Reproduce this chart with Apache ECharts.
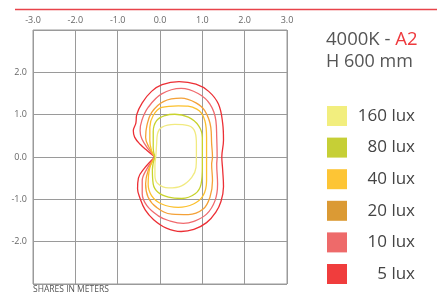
<!DOCTYPE html>
<html>
<head>
<meta charset="utf-8">
<script src="https://cdn.jsdelivr.net/npm/echarts@6/dist/echarts.min.js"></script>
<style>
  html, body { margin: 0; padding: 0; background: #fff; }
  #chart { width: 437px; height: 295px; }
</style>
</head>
<body>
<div id="chart"></div>
<script>
// isolux levels, legend order (160 first)
const levels = ['160 lux', '80 lux', '40 lux', '20 lux', '10 lux', '5 lux']
const swatchColors = ['#f2ee7e', '#c6cf36', '#fdc535', '#db9a34', '#ee6a6a', '#f03d3d']
const lineColors = ['#f1ea80', '#c8d32c', '#fcc02c', '#f4a137', '#f06a6e', '#ec2f35']

const xTicks = [-3, -2, -1, 0, 1, 2, 3]
const yLabelTicks = [-2, -1, 0, 1, 2]

// contour outlines in meters
const lux160 = [[-0.10, 0], [-0.08, 0.3], [-0.06, 0.54], [0.04, 0.70], [0.35, 0.77], [0.67, 0.74], [0.83, 0.58], [0.86, 0.31], [0.86, 0.0],
  [0.85, -0.25], [0.75, -0.48], [0.51, -0.68], [0.20, -0.73], [-0.04, -0.64], [-0.12, -0.44], [-0.12, -0.2], [-0.10, 0]]
const lux80 = [[-0.12, 0], [-0.16, 0.2], [-0.16, 0.6], [-0.08, 0.86], [0.12, 0.98], [0.35, 1.01], [0.67, 0.94], [0.91, 0.74], [1.0, 0.46], [1.0, 0.0],
  [1.0, -0.25], [0.97, -0.64], [0.83, -0.87], [0.51, -0.98], [0.20, -0.95], [-0.04, -0.84], [-0.16, -0.64], [-0.18, -0.3], [-0.12, 0]]
const lux40 = [[-0.12, 0], [-0.20, 0.15], [-0.24, 0.39], [-0.24, 0.70], [-0.16, 0.98], [0.04, 1.17], [0.43, 1.21], [0.87, 1.13], [1.06, 0.86], [1.10, 0.46], [1.10, 0.0],
  [1.10, -0.17], [1.10, -0.56], [1.02, -0.91], [0.79, -1.11], [0.43, -1.19], [0.04, -1.11], [-0.20, -0.91], [-0.28, -0.64], [-0.24, -0.25], [-0.12, 0]]
const lux20 = [[-0.12, 0], [-0.26, 0.23], [-0.34, 0.46], [-0.31, 0.74], [-0.20, 1.05], [0.08, 1.31], [0.50, 1.39], [0.85, 1.28], [1.06, 1.09], [1.20, 0.70], [1.22, 0.31], [1.24, 0.0],
  [1.22, -0.17], [1.24, -0.56], [1.18, -0.95], [1.02, -1.23], [0.67, -1.36], [0.28, -1.35], [-0.08, -1.19], [-0.28, -0.95], [-0.34, -0.64], [-0.28, -0.32], [-0.12, 0]]
const lux10 = [[-0.12, 0], [-0.28, 0.19], [-0.43, 0.43], [-0.47, 0.62], [-0.43, 0.86], [-0.28, 1.17], [0.04, 1.49], [0.50, 1.62], [0.90, 1.50], [1.18, 1.25], [1.32, 0.86], [1.34, 0.46], [1.35, 0.0],
  [1.34, -0.17], [1.36, -0.64], [1.30, -1.03], [1.10, -1.35], [0.80, -1.52], [0.55, -1.57], [0.20, -1.50], [-0.04, -1.39], [-0.31, -1.15], [-0.42, -0.87], [-0.42, -0.56], [-0.31, -0.28], [-0.12, 0]]
const lux5 = [[-0.12, 0.0], [-0.30, 0.15], [-0.47, 0.30], [-0.60, 0.47], [-0.63, 0.62], [-0.57, 0.80], [-0.55, 1.00], [-0.42, 1.28], [-0.20, 1.55], [0.05, 1.71], [0.45, 1.78], [0.85, 1.72], [1.15, 1.55], [1.38, 1.25], [1.48, 0.80], [1.50, 0.40], [1.46, 0.0],
  [1.48, -0.30], [1.50, -0.70], [1.44, -1.05], [1.32, -1.30], [1.10, -1.55], [0.80, -1.71], [0.50, -1.76], [0.15, -1.68], [-0.15, -1.48], [-0.35, -1.25], [-0.47, -0.98], [-0.53, -0.75], [-0.51, -0.50], [-0.38, -0.28], [-0.12, 0.0]]

const contours = [lux160, lux80, lux40, lux20, lux10, lux5]

const chart = echarts.init(document.getElementById('chart'), null, { renderer: 'canvas' })

const series = contours.map((pts, i) => ({
  name: levels[i],
  type: 'line',
  data: pts,
  smooth: 0.4,
  showSymbol: false,
  symbol: 'none',
  silent: true,
  lineStyle: { color: lineColors[i], width: 1.3 },
  z: 10 - i,
}))

// legend drawn by hand so the labels can be right aligned
const legendItems = []
levels.forEach((lab, i) => {
  const top = 106 + i * 31.6
  legendItems.push({
    type: 'rect',
    shape: { x: 327, y: top, width: 20, height: 20 },
    style: { fill: swatchColors[i] },
  })
  legendItems.push({
    type: 'text',
    x: 415,
    y: top + 10,
    style: {
      text: lab,
      align: 'right',
      verticalAlign: 'middle',
      font: '17px "Open Sans"',
      fill: '#444',
    },
  })
})

chart.setOption({
  animation: false,
  grid: {
    left: 33, top: 30, width: 254, height: 254,
    show: true, borderColor: '#9a9a9a', borderWidth: 1,
  },
  xAxis: {
    type: 'value', position: 'top',
    min: -3, max: 3, interval: 1,
    axisLine: { show: false },
    axisTick: { show: false },
    splitLine: { lineStyle: { color: '#9a9a9a', width: 1 } },
    axisLabel: {
      margin: 5,
      color: '#666',
      fontSize: 9,
      fontFamily: 'Open Sans',
      formatter: v => xTicks.includes(v) ? v.toFixed(1) : '',
    },
  },
  yAxis: {
    type: 'value',
    min: -3, max: 3, interval: 1,
    axisLine: { show: false },
    axisTick: { show: false },
    splitLine: { lineStyle: { color: '#9a9a9a', width: 1 } },
    axisLabel: {
      margin: 6,
      color: '#666',
      fontSize: 9,
      fontFamily: 'Open Sans',
      formatter: v => yLabelTicks.includes(v) ? v.toFixed(1) : '',
    },
  },
  graphic: [
    {
      type: 'line',
      shape: { x1: 15, y1: 9.5, x2: 437, y2: 9.5 },
      style: { stroke: '#e8434a', lineWidth: 1.5 },
    },
    {
      type: 'text', x: 326, y: 40,
      style: {
        text: '{a|4000K - }{b|A2}',
        verticalAlign: 'middle',
        rich: {
          a: { fontSize: 18.5, fontFamily: 'Open Sans', fill: '#555' },
          b: { fontSize: 18.5, fontFamily: 'Open Sans', fill: '#ee3a3e' },
        },
      },
    },
    {
      type: 'text', x: 326, y: 62,
      style: { text: 'H 600 mm', verticalAlign: 'middle', font: '18px "Open Sans"', fill: '#555' },
    },
    {
      type: 'text', x: 33, y: 290,
      style: { text: 'SHARES IN METERS', verticalAlign: 'middle', font: '8.5px "Open Sans"', fill: '#555' },
    },
    ...legendItems,
  ],
  series,
})

window.addEventListener('resize', () => chart.resize())
</script>
</body>
</html>
